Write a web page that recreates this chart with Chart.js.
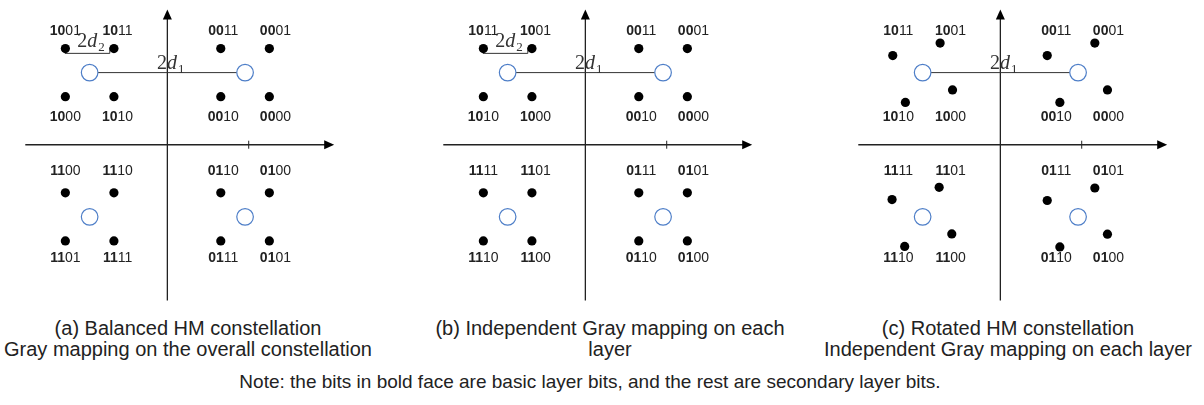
<!DOCTYPE html>
<html>
<head>
<meta charset="utf-8">
<script src="https://cdn.jsdelivr.net/npm/chart.js@4.4.1/dist/chart.umd.min.js"></script>
<style>
html, body { margin: 0; padding: 0; background: #fff; }
body { width: 1204px; height: 405px; overflow: hidden; position: relative; font-family: "Liberation Sans", Arial, sans-serif; color: #222; }
.panel { position: absolute; top: 0; }
.cap { position: absolute; white-space: nowrap; transform: translateX(-50%); font-size: 20px; line-height: 22px; text-align: center; }
</style>
</head>
<body>
<canvas id="pa" class="panel" width="370" height="312" style="left:0px"></canvas>
<canvas id="pb" class="panel" width="370" height="312" style="left:418px"></canvas>
<canvas id="pc" class="panel" width="370" height="312" style="left:833px"></canvas>

<div class="cap" style="left:188px;top:317px">(a) Balanced HM constellation</div>
<div class="cap" style="left:188px;top:338px">Gray mapping on the overall constellation</div>
<div class="cap" style="left:610px;top:317px">(b) Independent Gray mapping on each</div>
<div class="cap" style="left:610px;top:338px">layer</div>
<div class="cap" style="left:1008px;top:317px">(c) Rotated HM constellation</div>
<div class="cap" style="left:1008px;top:338px">Independent Gray mapping on each layer</div>
<div class="cap" style="left:590px;top:371px;font-size:19px">Note: the bits in bold face are basic layer bits, and the rest are secondary layer bits.</div>

<script>
// constellation values (one unit = d2-ish spacing)
const circleX = [-3.2, 3.2, -3.2, 3.2]
const circleY = [3.0, 3.0, -3.0, -3.0]

// square grid used by (a) and (b), row by row from the top
const gridX = [-4.2, -2.2, 2.2, 4.2]
const gridY = [4.0, 2.0, -2.0, -4.0]

// rotated points of (c), same order as labelsC
const rotX = [-4.43, -2.48, 1.93, 3.89, -3.91, -1.97, 2.45, 4.41, -4.46, -2.52, 1.93, 3.89, -3.94, -2.0, 2.45, 4.41]
const rotY = [3.71, 4.23, 3.71, 4.23, 1.76, 2.28, 1.76, 2.28, -2.28, -1.77, -2.32, -1.8, -4.23, -3.71, -4.25, -3.72]

// bit labels, row by row
const labelX = [-4.2, -2.05, 2.3, 4.45]
const labelY = [4.74, 1.13, -1.1, -4.73]
const labelsA = ['1001', '1011', '0011', '0001', '1000', '1010', '0010', '0000',
                 '1100', '1110', '0110', '0100', '1101', '1111', '0111', '0101']
const labelsB = ['1011', '1001', '0011', '0001', '1010', '1000', '0010', '0000',
                 '1111', '1101', '0111', '0101', '1110', '1100', '0110', '0100']
const labelsC = labelsB

// distance marks
const d1Line = [{x: -3.2, y: 3.0}, {x: 3.2, y: 3.0}]
const d2Bracket = [{x: -4.2, y: 4.0}, {x: -4.2, y: 3.8}, {x: -2.37, y: 3.8}, {x: -2.37, y: 4.05}]
const d1Text = {x: 0.12, y: 3.44}
const d2Text = {x: -3.16, y: 4.37}

// axes extents and the lone tick
const axisX = [-5.85, 6.87]
const axisY = [-6.48, 5.62]
const tickX = 3.35

const U = 25.6
const W = 370, H = 312

const gridPts = () => {
  const out = []
  gridY.forEach(y => gridX.forEach(x => out.push({x, y})))
  return out
}

const axesPlugin = {
  id: 'axesArrows',
  beforeDatasetsDraw(chart) {
    const {ctx, scales: {x, y}} = chart
    const x0 = x.getPixelForValue(0), y0 = y.getPixelForValue(0)
    const xl = x.getPixelForValue(axisX[0]), xr = x.getPixelForValue(axisX[1])
    const yb = y.getPixelForValue(axisY[0]), yt = y.getPixelForValue(axisY[1])
    const xt = x.getPixelForValue(tickX)
    ctx.save()
    ctx.strokeStyle = '#222'
    ctx.lineWidth = 1.3
    ctx.beginPath()
    ctx.moveTo(xl, y0); ctx.lineTo(xr - 8, y0)
    ctx.moveTo(x0, yb); ctx.lineTo(x0, yt + 8)
    ctx.stroke()
    ctx.lineWidth = 1
    ctx.beginPath()
    ctx.moveTo(xt, y0 - 4); ctx.lineTo(xt, y0 + 4)
    ctx.stroke()
    ctx.fillStyle = '#000'
    ctx.beginPath()
    ctx.moveTo(xr, y0); ctx.lineTo(xr - 10, y0 - 4.5); ctx.lineTo(xr - 10, y0 + 4.5)
    ctx.fill()
    ctx.beginPath()
    ctx.moveTo(x0, yt); ctx.lineTo(x0 - 4.5, yt + 10); ctx.lineTo(x0 + 4.5, yt + 10)
    ctx.fill()
    ctx.restore()
  }
}

function dText(ctx, px, py, sub) {
  ctx.save()
  ctx.fillStyle = '#333'
  ctx.textBaseline = 'alphabetic'
  const f1 = '20px "Liberation Serif", "Times New Roman", serif'
  const f2 = 'italic 20px "Liberation Serif", "Times New Roman", serif'
  const f3 = '13px "Liberation Serif", "Times New Roman", serif'
  ctx.font = f1; const w1 = ctx.measureText('2').width
  ctx.font = f2; const w2 = ctx.measureText('d').width
  ctx.font = f3; const w3 = ctx.measureText(sub).width
  let sx = px - (w1 + w2 + w3) / 2
  const base = py + 7
  ctx.font = f1; ctx.fillText('2', sx, base); sx += w1
  ctx.font = f2; ctx.fillText('d', sx, base); sx += w2 + 1
  ctx.font = f3; ctx.fillText(sub, sx, base + 4)
  ctx.restore()
}

const labelPlugin = {
  id: 'bitLabels',
  afterDatasetsDraw(chart, args, opts) {
    const {ctx, scales: {x, y}} = chart
    const bold = '14px "Liberation Sans", Arial, sans-serif'
    ctx.save()
    ctx.fillStyle = '#222'
    ctx.textBaseline = 'middle'
    opts.bits.forEach((b, i) => {
      const px = x.getPixelForValue(labelX[i % 4])
      const py = y.getPixelForValue(labelY[Math.floor(i / 4)])
      const head = b.slice(0, 2), tail = b.slice(2)
      ctx.font = 'bold ' + bold
      const wh = ctx.measureText(head).width
      ctx.font = bold
      const wt = ctx.measureText(tail).width
      let sx = px - (wh + wt) / 2
      ctx.font = 'bold ' + bold
      ctx.fillText(head, sx, py)
      ctx.font = bold
      ctx.fillText(tail, sx + wh, py)
    })
    ctx.restore()
    dText(ctx, x.getPixelForValue(d1Text.x), y.getPixelForValue(d1Text.y), '1')
    if (opts.d2) dText(ctx, x.getPixelForValue(d2Text.x), y.getPixelForValue(d2Text.y), '2')
  }
}

function makePanel(id, pts, bits, withD2) {
  const datasets = [
    {
      label: 'layer centres',
      data: circleX.map((cx, i) => ({x: cx, y: circleY[i]})),
      pointRadius: 8.3,
      pointBorderColor: '#4f7fc8',
      pointBackgroundColor: '#fff',
      pointBorderWidth: 1.2,
      order: 0
    },
    {
      label: 'symbols',
      data: pts,
      pointRadius: 4.6,
      pointBackgroundColor: '#000',
      pointBorderColor: '#000',
      pointBorderWidth: 0,
      order: 1
    },
    {
      label: '2d1',
      data: d1Line,
      showLine: true,
      borderColor: '#333',
      borderWidth: 1,
      pointRadius: 0,
      order: 2
    }
  ]
  if (withD2) {
    datasets.push({
      label: '2d2',
      data: d2Bracket,
      showLine: true,
      borderColor: '#333',
      borderWidth: 1,
      pointRadius: 0,
      order: 2
    })
  }
  return new Chart(document.getElementById(id), {
    type: 'scatter',
    data: {datasets},
    options: {
      responsive: false,
      animation: false,
      events: [],
      layout: {padding: 0},
      scales: {
        x: {type: 'linear', display: false, min: -6.5, max: W / U - 6.5},
        y: {type: 'linear', display: false, min: 5.625 - H / U, max: 5.625}
      },
      plugins: {
        legend: {display: false},
        tooltip: {enabled: false},
        bitLabels: {bits, d2: withD2}
      }
    },
    plugins: [axesPlugin, labelPlugin]
  })
}

makePanel('pa', gridPts(), labelsA, true)
makePanel('pb', gridPts(), labelsB, true)
makePanel('pc', rotX.map((x, i) => ({x, y: rotY[i]})), labelsC, false)
</script>
</body>
</html>
